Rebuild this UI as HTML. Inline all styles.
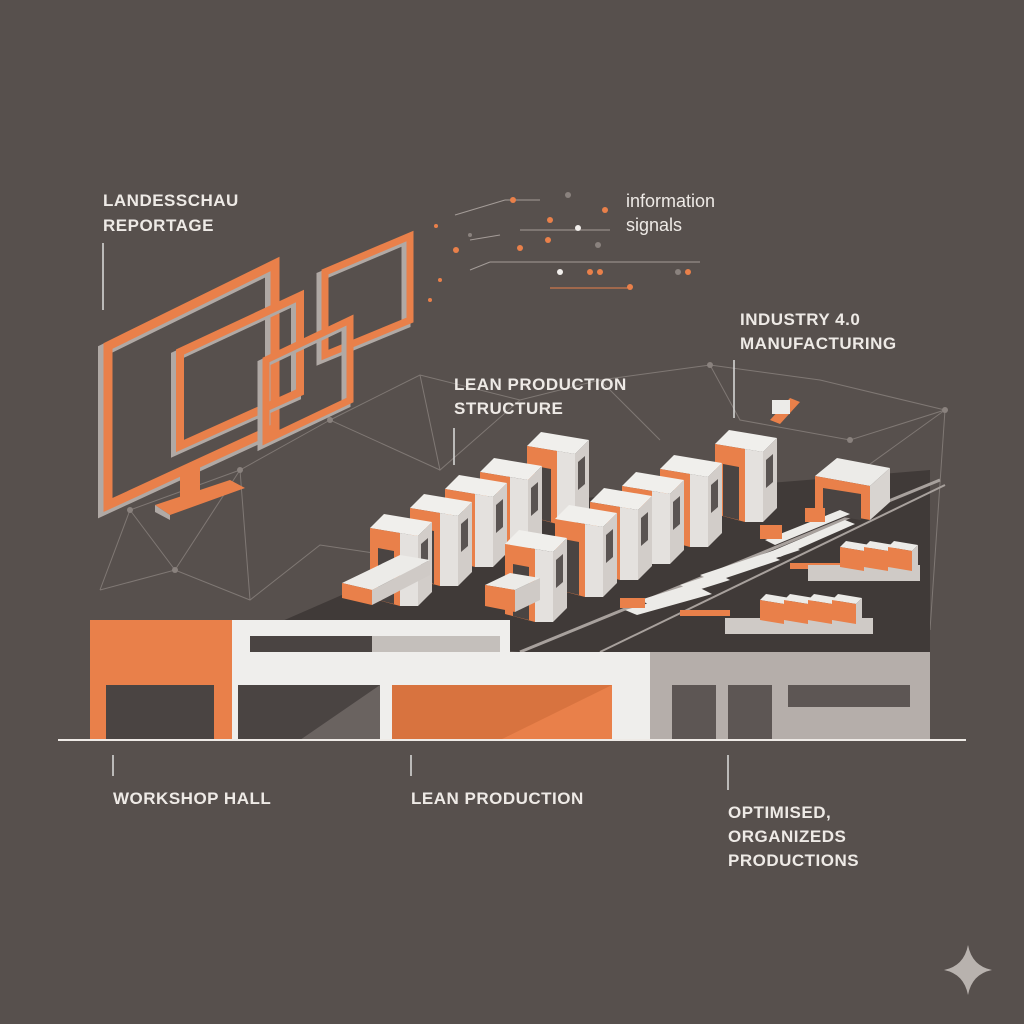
<!DOCTYPE html>
<html><head><meta charset="utf-8"><style>
html,body{margin:0;padding:0;background:#57504d;}
svg{display:block}
text{font-family:"Liberation Sans",sans-serif;fill:#eeeae6;}
.b{font-weight:bold;font-size:17px;letter-spacing:0.5px}
</style></head><body>
<svg width="1024" height="1024" viewBox="0 0 1024 1024" xmlns="http://www.w3.org/2000/svg">
<defs>
<g id="m">
<polygon points="0,14 14,0 62,8 48,22" fill="#f0efec"/>
<polygon points="0,14 30,19 30,92 0,84" fill="#e9804a"/>
<polygon points="8,34 24,37 24,90 8,86" fill="#4a4442"/>
<polygon points="30,19 48,22 48,92 30,92" fill="#e4e1de"/>
<polygon points="48,22 62,8 62,78 48,92" fill="#d2cdc9"/>
<polygon points="51,30 58,24 58,52 51,58" fill="#5a5452"/>
</g>
<g id="c">
<polygon points="0,6 6,0 30,4 24,10" fill="#ecebe8"/>
<polygon points="0,6 24,10 24,30 0,26" fill="#e9804a"/>
<polygon points="24,10 30,4 30,24 24,30" fill="#cfcac6"/>
</g>
</defs>
<rect width="1024" height="1024" fill="#57504d"/>
<g stroke="#8a827e" stroke-width="1" fill="none" opacity="0.8">
<polyline points="100,590 175,570 250,600 320,545 420,560"/>
<polyline points="175,570 130,510 240,470 330,420 440,470"/>
<polyline points="175,570 240,470 250,600"/>
<polyline points="130,510 100,590"/>
<polyline points="330,420 420,375 520,400 600,380 710,365 820,380 945,410"/>
<polyline points="710,365 740,420 850,440 945,410 930,630"/>
<polyline points="600,380 660,440"/>
<polyline points="945,410 820,500"/>
<polyline points="420,375 440,470 520,400"/>
</g>
<g fill="#8a827e"><circle cx="175" cy="570" r="3"/><circle cx="240" cy="470" r="3"/><circle cx="330" cy="420" r="3"/><circle cx="710" cy="365" r="3"/><circle cx="945" cy="410" r="3"/><circle cx="850" cy="440" r="3"/><circle cx="130" cy="510" r="3"/></g>
<text class="b" x="103" y="206">LANDESSCHAU</text>
<text class="b" x="103" y="231">REPORTAGE</text>
<line x1="103" y1="243" x2="103" y2="310" stroke="#ddd" stroke-width="1.5"/>
<text x="626" y="207" font-size="18">information</text>
<text x="626" y="231" font-size="18">signals</text>
<text class="b" x="740" y="325">INDUSTRY 4.0</text>
<text class="b" x="740" y="349">MANUFACTURING</text>
<line x1="734" y1="360" x2="734" y2="418" stroke="#ddd" stroke-width="1.5"/>
<text class="b" x="454" y="390">LEAN PRODUCTION</text>
<text class="b" x="454" y="414">STRUCTURE</text>
<line x1="454" y1="428" x2="454" y2="465" stroke="#ddd" stroke-width="1.5"/>
<g stroke="#a49c98" stroke-width="1">
<line x1="455" y1="215" x2="505" y2="200"/><line x1="505" y1="200" x2="540" y2="200"/>
<line x1="470" y1="240" x2="500" y2="235"/><line x1="520" y1="230" x2="610" y2="230"/>
<line x1="470" y1="270" x2="490" y2="262"/><line x1="490" y1="262" x2="700" y2="262"/>
<line x1="550" y1="288" x2="630" y2="288" stroke="#e9804a"/>
</g>
<g fill="#e9804a"><circle cx="513" cy="200" r="3"/><circle cx="550" cy="220" r="3"/><circle cx="605" cy="210" r="3"/><circle cx="456" cy="250" r="3"/><circle cx="520" cy="248" r="3"/><circle cx="548" cy="240" r="3"/><circle cx="590" cy="272" r="3"/><circle cx="600" cy="272" r="3"/><circle cx="688" cy="272" r="3"/><circle cx="630" cy="287" r="3"/><circle cx="440" cy="280" r="2"/><circle cx="430" cy="300" r="2"/><circle cx="436" cy="226" r="2"/></g>
<g fill="#f2efec"><circle cx="578" cy="228" r="3"/><circle cx="560" cy="272" r="3"/></g>
<g fill="#8a827e"><circle cx="568" cy="195" r="3"/><circle cx="598" cy="245" r="3"/><circle cx="678" cy="272" r="3"/><circle cx="470" cy="235" r="2"/></g>
<g fill="none" stroke-linejoin="miter">
<polygon points="108,346 275,264 275,428 108,505" stroke="#b0a9a5" stroke-width="12" transform="translate(-4,4)"/>
<polygon points="108,346 275,264 275,428 108,505" stroke="#e9804a" stroke-width="9"/>
<polygon points="180,352 300,296 300,392 180,446" stroke="#b0a9a5" stroke-width="10" transform="translate(-4,4)"/>
<polygon points="180,352 300,296 300,392 180,446" stroke="#e9804a" stroke-width="8"/>
<polygon points="325,272 410,236 410,320 325,355" stroke="#b0a9a5" stroke-width="9" transform="translate(-4,4)"/>
<polygon points="325,272 410,236 410,320 325,355" stroke="#e9804a" stroke-width="7"/>
<polygon points="266,360 350,320 350,400 266,440" stroke="#b0a9a5" stroke-width="9" transform="translate(-4,4)"/>
<polygon points="266,360 350,320 350,400 266,440" stroke="#e9804a" stroke-width="7"/>
</g>
<polygon points="180,470 200,462 200,495 180,503" fill="#e9804a"/>
<polygon points="155,505 230,480 245,488 170,515" fill="#e9804a"/>
<polygon points="155,505 170,515 170,520 155,512" fill="#b0a9a5"/>
<polygon points="280,622 560,500 930,470 930,652 520,652" fill="#403a38"/>
<line x1="520" y1="652" x2="940" y2="480" stroke="#a8a19d" stroke-width="3"/>
<line x1="600" y1="652" x2="945" y2="485" stroke="#a8a19d" stroke-width="2"/>
<use href="#m" x="527" y="432"/>
<use href="#m" x="480" y="458"/>
<use href="#m" x="715" y="430"/>
<use href="#m" x="660" y="455"/>
<use href="#m" x="445" y="475"/>
<use href="#m" x="622" y="472"/>
<use href="#m" x="410" y="494"/>
<use href="#m" x="590" y="488"/>
<use href="#m" x="370" y="514"/>
<use href="#m" x="555" y="505"/>
<use href="#m" x="505" y="530"/>
<polygon points="342,583 400,555 430,560 372,590" fill="#ecebe8"/>
<polygon points="342,583 372,590 372,605 342,598" fill="#e9804a"/>
<polygon points="372,590 430,560 430,575 372,605" fill="#cfcac6"/>
<polygon points="485,585 510,573 540,578 515,590" fill="#ecebe8"/>
<polygon points="485,585 515,590 515,612 485,606" fill="#e9804a"/>
<polygon points="515,590 540,578 540,600 515,612" fill="#cfcac6"/>
<g transform="translate(815,458)"><polygon points="0,18 22,0 75,10 55,28" fill="#ecebe8"/><polygon points="0,18 55,28 55,62 0,52" fill="#e9804a"/><polygon points="8,30 46,36 46,62 8,56" fill="#4a4442"/><polygon points="55,28 75,10 75,44 55,62" fill="#d8d4d0"/></g>
<g fill="#ecebe8">
<polygon points="765,540 840,510 850,514 775,545"/><polygon points="770,552 845,520 855,524 780,557"/>
<polygon points="700,575 790,545 800,550 710,580"/><polygon points="680,585 770,555 780,560 690,590"/>
<polygon points="640,600 720,575 730,580 650,605"/><polygon points="625,610 700,588 712,594 637,615"/>
</g>
<g fill="#e9804a"><rect x="760" y="525" width="22" height="14"/><rect x="805" y="508" width="20" height="14"/><rect x="620" y="598" width="25" height="10"/><rect x="680" y="610" width="50" height="6"/><rect x="790" y="563" width="50" height="6"/></g>
<rect x="808" y="565" width="112" height="16" fill="#cfcac6"/>
<use href="#c" x="840" y="541"/><use href="#c" x="864" y="541"/><use href="#c" x="888" y="541"/>
<rect x="725" y="618" width="148" height="16" fill="#cfcac6"/>
<use href="#c" x="760" y="594"/><use href="#c" x="784" y="594"/><use href="#c" x="808" y="594"/><use href="#c" x="832" y="594"/>
<polygon points="770,420 790,398 800,402 780,424" fill="#e9804a"/><rect x="772" y="400" width="18" height="14" fill="#ecebe8"/>
<rect x="90" y="620" width="142" height="120" fill="#e9804a"/>
<rect x="106" y="685" width="108" height="55" fill="#4a4442"/>
<rect x="232" y="620" width="278" height="120" fill="#efeeec"/>
<rect x="372" y="636" width="128" height="16" fill="#c4bfbb"/>
<rect x="250" y="636" width="122" height="16" fill="#4a4442"/>
<rect x="510" y="652" width="140" height="88" fill="#efeeec"/>
<rect x="238" y="685" width="142" height="55" fill="#6a6360"/>
<polygon points="238,685 380,685 300,740 238,740" fill="#4a4442"/>
<rect x="392" y="685" width="220" height="55" fill="#e9804a"/>
<polygon points="392,685 612,685 500,740 392,740" fill="#d8733f"/>
<rect x="650" y="652" width="280" height="88" fill="#b5aeaa"/>
<rect x="672" y="685" width="44" height="55" fill="#5d5654"/>
<rect x="728" y="685" width="44" height="55" fill="#5d5654"/>
<rect x="788" y="685" width="122" height="22" fill="#5d5654"/>
<line x1="58" y1="740" x2="966" y2="740" stroke="#eeeae6" stroke-width="2"/>
<line x1="113" y1="755" x2="113" y2="776" stroke="#ddd" stroke-width="1.5"/>
<line x1="411" y1="755" x2="411" y2="776" stroke="#ddd" stroke-width="1.5"/>
<line x1="728" y1="755" x2="728" y2="790" stroke="#ddd" stroke-width="1.5"/>
<text class="b" x="113" y="804">WORKSHOP HALL</text>
<text class="b" x="411" y="804">LEAN PRODUCTION</text>
<text class="b" x="728" y="818">OPTIMISED,</text>
<text class="b" x="728" y="842">ORGANIZEDS</text>
<text class="b" x="728" y="866">PRODUCTIONS</text>
<path d="M968,945 Q972,966 992,970 Q972,974 968,995 Q964,974 944,970 Q964,966 968,945Z" fill="#b8b2ae"/>
</svg>
</body></html>
